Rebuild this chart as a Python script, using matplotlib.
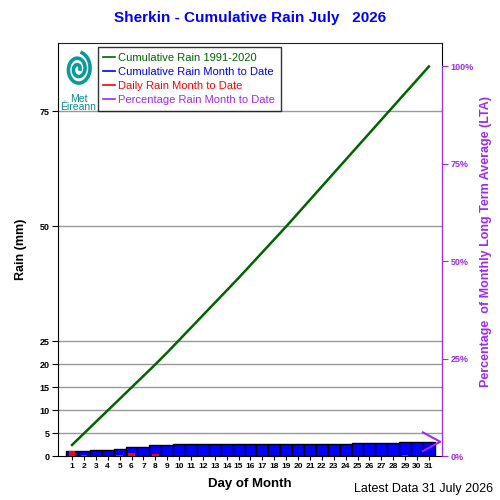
#!/usr/bin/env python
# Cumulative rain chart for Sherkin, July 2026

import numpy as np
import matplotlib
matplotlib.use("Agg")
import matplotlib.pyplot as plt

plt.rcParams['font.family'] = ['Liberation Sans', 'DejaVu Sans']

days = list(range(1, 32))
daily_rain = [1.0, 0.15, 0.05, 0.1, 0.15, 0.55, 0.0, 0.4, 0.1, 0.1,
              0.0, 0.0, 0.0, 0.0, 0.0, 0.0, 0.1, 0.0, 0.0, 0.0,
              0.0, 0.0, 0.0, 0.0, 0.1, 0.1, 0.0, 0.0, 0.2, 0.0, 0.0]
lta_cumulative = [2.4, 4.9, 7.4, 9.9, 12.4, 14.9, 17.4, 19.9, 22.5, 25.2,
                  27.9, 30.6, 33.3, 36.0, 38.7, 41.5, 44.3, 47.1, 49.9, 52.8,
                  55.7, 58.6, 61.5, 64.4, 67.3, 70.2, 73.1, 76.0, 78.9, 81.8, 84.7]
left_ticks = [0, 5, 10, 15, 20, 25, 50, 75]
right_ticks = [0, 25, 50, 75, 100]

cum_rain = np.cumsum(daily_rain)
lta_total = lta_cumulative[-1]
pct = cum_rain[-1] / lta_total * 100

PURPLE = '#9a2bf0'

fig = plt.figure(figsize=(5, 5), dpi=100)
ax = fig.add_axes([0.116, 0.088, 0.768, 0.826])

ax.bar(days, cum_rain, width=1.0, color='#0000ff', edgecolor='black',
       linewidth=1.0, zorder=3)
ax.bar(days, daily_rain, width=0.55, color='#ff0000', linewidth=0, zorder=4)
ax.plot(days, lta_cumulative, color='#006400', linewidth=1.8, zorder=5)

ax.set_xlim(-0.18, 32.1)
ax.set_ylim(0, 89.8)
ax.set_yticks(left_ticks)
ax.set_xticks(days)
ax.set_yticklabels([str(t) for t in left_ticks], fontsize=6.5, fontweight='bold')
ax.set_xticklabels([str(d) for d in days], fontsize=6, fontweight='bold')
ax.tick_params(axis='x', length=3, pad=2)
ax.tick_params(axis='y', length=4, pad=2)
for t in left_ticks[1:]:
    ax.axhline(t, color='#999999', linewidth=1.0, zorder=1)
ax.spines['top'].set_color('#222222')
ax.spines['right'].set_color('black')

ax.set_xlabel('Day of Month', fontsize=9.5, fontweight='bold', labelpad=6)
ax.set_ylabel('Rain (mm)', fontsize=9, fontweight='bold', labelpad=9)

# right axis: percentage of LTA
ax2 = ax.twinx()
ax2.set_ylim(0, 89.8 / lta_total * 100)
ax2.set_yticks(right_ticks)
ax2.set_yticklabels([f'{t}%' for t in right_ticks], fontsize=6.5,
                    fontweight='bold', color=PURPLE)
ax2.tick_params(axis='y', colors=PURPLE, length=4, pad=2)
ax2.spines['right'].set_color(PURPLE)
ax2.spines['right'].set_bounds(0, 100)
ax2.spines['right'].set_zorder(3)
for s in ['top', 'left', 'bottom']:
    ax2.spines[s].set_visible(False)
ax2.set_ylabel('Percentage  of Monthly Long Term Average (LTA)', color=PURPLE,
               fontsize=9, fontweight='bold', labelpad=5)
ax2.yaxis.set_label_coords(1.1, 0.52)

# percentage marker pointing at right axis
ax2.plot([30.5, 31.95, 30.5], [pct + 2.4, pct, pct - 2.4], color=PURPLE,
         linewidth=1.5, clip_on=False, zorder=6)

# legend
line_colors = ['#006400', '#0000ff', '#ff0000', PURPLE]
handles = [plt.Line2D([], [], color=c, linewidth=1.2) for c in line_colors]
labels = ['Cumulative Rain 1991-2020', 'Cumulative Rain Month to Date',
          'Daily Rain Month to Date', 'Percentage Rain Month to Date']
leg = ax2.legend(handles, labels, loc='upper left', bbox_to_anchor=(0.104, 0.99),
                 fontsize=8, frameon=True, fancybox=False, handlelength=1.0,
                 handletextpad=0.35, borderpad=0.5, labelspacing=0.38,
                 borderaxespad=0)
leg.get_frame().set_edgecolor('black')
leg.get_frame().set_linewidth(1.0)
for txt, c in zip(leg.get_texts(), line_colors):
    txt.set_color(c)

# Met Eireann logo (approximate)
theta = np.linspace(0, 4.4 * np.pi, 250)
r = 0.004 + 0.0016 * theta
fig.add_artist(plt.Line2D(0.156 + r * np.cos(theta), 0.862 + 1.3 * r * np.sin(theta),
                          color='#0a9a9a', linewidth=2.6, transform=fig.transFigure))
fig.text(0.158, 0.802, 'Met', color='#0a8a8a', fontsize=7.5, ha='center', va='center')
fig.text(0.157, 0.785, 'Éireann', color='#0a8a8a', fontsize=7.5, ha='center', va='center')

fig.text(0.5, 0.964, 'Sherkin - Cumulative Rain July   2026', color='#0000ff',
         fontsize=11, fontweight='bold', ha='center', va='center')
fig.text(0.986, 0.022, 'Latest Data 31 July 2026', fontsize=9, ha='right', va='center')

fig.savefig('out.png', dpi=100)
